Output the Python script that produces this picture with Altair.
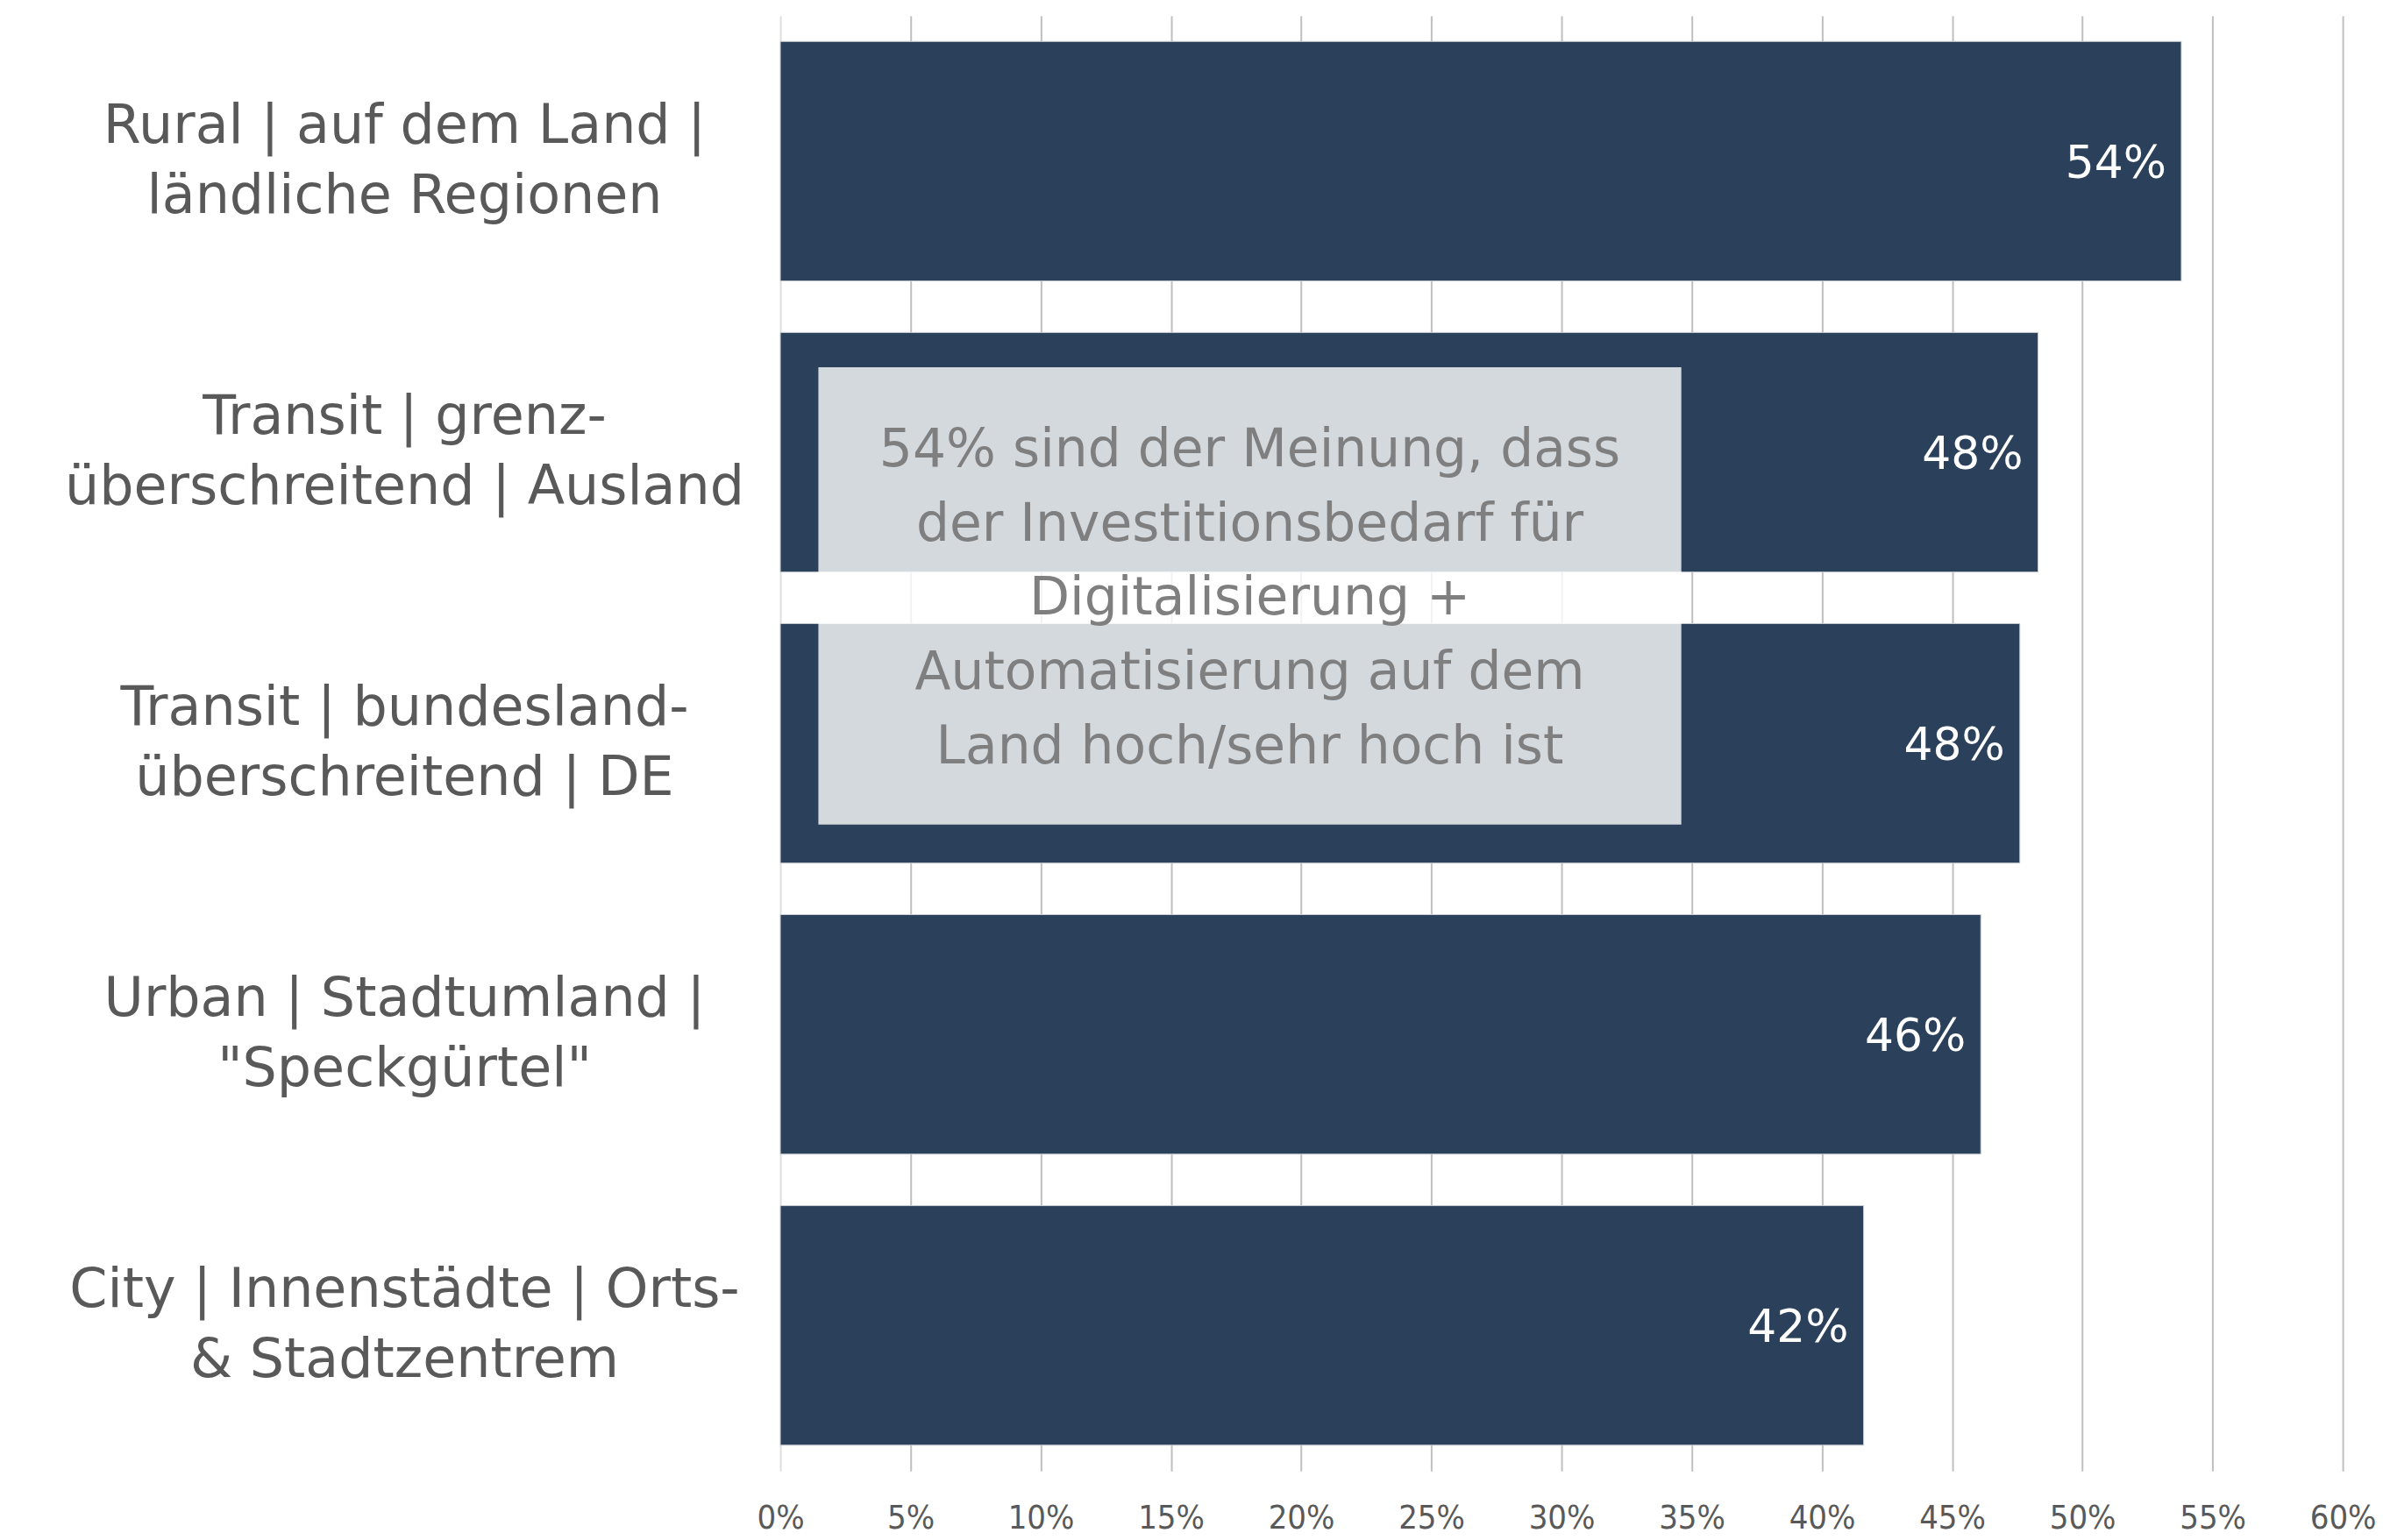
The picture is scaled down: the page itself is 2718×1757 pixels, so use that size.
import altair as alt
import pandas as pd

categories = [
    "Rural | auf dem Land |\nländliche Regionen",
    "Transit | grenz-\nüberschreitend | Ausland",
    "Transit | bundesland-\nüberschreitend | DE",
    "Urban | Stadtumland |\n\"Speckgürtel\"",
    "City | Innenstädte | Orts-\n& Stadtzentrem",
]
values = [0.538, 0.483, 0.476, 0.461, 0.416]
tick_values = [0, 0.05, 0.10, 0.15, 0.20, 0.25, 0.30, 0.35, 0.40, 0.45, 0.50, 0.55, 0.60]
note_text = [
    "54% sind der Meinung, dass",
    "der Investitionsbedarf für",
    "Digitalisierung +",
    "Automatisierung auf dem",
    "Land hoch/sehr hoch ist",
]
note_x = [0.0146, 0.346]

FONT = "DejaVu Sans"
TICK_FONT = "Liberation Sans Narrow, DejaVu Sans Condensed, DejaVu Sans"
BAR = "#2B405B"

df = pd.DataFrame({"cat": categories, "val": values})

y_enc = alt.Y(
    "cat:N",
    sort=categories,
    scale=alt.Scale(paddingInner=0.177, paddingOuter=0.0885),
    axis=alt.Axis(
        title=None,
        labelExpr="split(datum.label, '\\n')",
        labelAlign="center",
        labelBaseline="middle",
        labelPadding=430,
        labelOffset=-40,
        labelFontSize=62,
        labelLineHeight=80,
        labelColor="#595959",
        labelFont=FONT,
        labelLimit=0,
        ticks=False,
        tickSize=0,
        domain=False,
        grid=False,
    ),
)

x_enc = alt.X(
    "val:Q",
    scale=alt.Scale(domain=[0, 0.6], nice=False),
    axis=alt.Axis(
        title=None,
        values=tick_values,
        format=".0%",
        labelFontSize=38,
        labelColor="#595959",
        labelFont=TICK_FONT,
        labelPadding=35,
        labelFlush=False,
        labelBound=False,
        ticks=False,
        domain=False,
        grid=True,
        gridColor={"condition": {"test": "datum.value === 0", "value": "#DEDEDE"}, "value": "#BFBFBF"},
        gridWidth=2,
    ),
)

bars = alt.Chart(df).mark_bar(color=BAR, stroke="#C9CED4", strokeWidth=1).encode(x=x_enc, y=y_enc)

labels = alt.Chart(df).mark_text(
    align="right", baseline="middle", dx=-17, dy=3, color="white", fontSize=52, font=FONT
).encode(
    x="val:Q",
    y=alt.Y("cat:N", sort=categories),
    text=alt.Text("val:Q", format=".0%"),
)

box_df = pd.DataFrame({"x0": [note_x[0]], "x1": [note_x[1]]})
box = alt.Chart(box_df).mark_rect(color="white", opacity=0.8).encode(
    x="x0:Q", x2="x1:Q", y=alt.value(402), y2=alt.value(925)
)

text_df = pd.DataFrame({"t": [note_text], "xm": [(note_x[0] + note_x[1]) / 2]})
note = alt.Chart(text_df).mark_text(
    align="center", baseline="middle", fontSize=60, lineHeight=85, color="#7F7F7F", font=FONT
).encode(x="xm:Q", y=alt.value(497), text="t")

chart = alt.layer(bars, labels, box, note).properties(
    width=1786,
    height=1664,
    autosize="none",
    padding={"left": 884, "top": 8, "right": 38, "bottom": 76},
).configure_view(stroke=None)

chart.save("out.html", embed_options={"renderer": "svg", "actions": False})
